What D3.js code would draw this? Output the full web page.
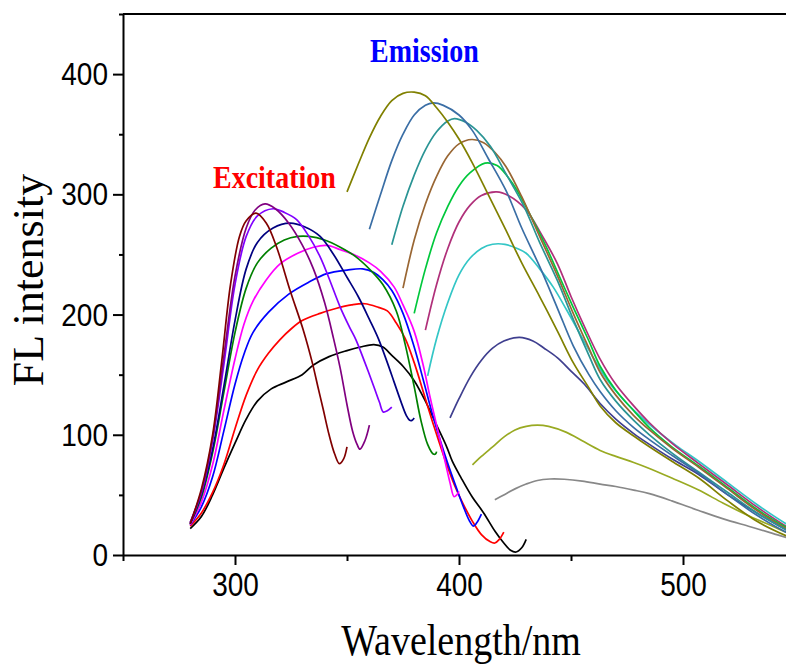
<!DOCTYPE html>
<html>
<head>
<meta charset="utf-8">
<script src="https://cdn.jsdelivr.net/npm/d3@7"></script>
<style>
  body { margin: 0; background: #fff; }
  svg { display: block; }
</style>
</head>
<body>
<div id="chart"></div>
<script>
// excitation spectra, [wavelength nm, intensity]
const exMaroon = [[280,26],[285,55],[290,100],[294,160],[298,225],[302,265],[305,278],[309.4,284.4],[314,276],[318.6,256],[324.6,220],[330.5,187],[334.5,160],[337,140],[339.4,121],[342,100],[344.5,84],[346.6,76],[348.5,80],[350,90]];
const exPurple = [[280,27],[285,53],[290,97],[295,165],[300,232],[305,272],[309,287],[313.4,292],[318,288],[324,276],[330,258],[335,238],[340,210],[344,180],[347,155],[350,125],[352.5,103],[354.5,92],[355.8,88],[358,95],[360,108]];
const exViolet = [[280,27],[285,52],[290,95],[295,158],[300,225],[305,265],[310,282],[317,288],[322,285],[327.5,279],[333,265],[338,248],[342,230],[347,206],[351,190],[354,179],[358,160],[362,140],[364.5,127],[366.2,119],[368,120],[370,123]];
const exNavy = [[280,26],[285,50],[290,88],[295,140],[300,195],[305,238],[310,260],[317,272],[324.6,276],[331,273],[338,265],[344,250],[350,231],[355,215],[360,196],[364,180],[368,160],[371,144],[374,128],[376.5,116],[378,112],[379,112],[380,114]];
const exGreen = [[280,26],[285,48],[290,85],[295,135],[300,185],[305,222],[310,243],[316,255],[322,262],[328,265],[333,265],[340,262],[347,256],[354,248],[361,236],[366,225],[372,203],[376,175],[380,140],[383,112],[386,92],[388.5,84],[389.5,84],[390,86]];
const exMagenta = [[280,25],[285,44],[290,75],[295,120],[300,163],[304,192],[308,211],[314,229],[320,242],[328,251],[335,256],[341,257.5],[347,254],[353,250],[360,243],[365,236],[371,223],[375,208],[380,186],[384,158],[387,132],[390,108],[392,92],[394,76],[396,60],[397.8,48.5],[399,50],[400,53]];
const exBlue = [[280,25],[285,40],[290,65],[295,103],[300,142],[304,167],[308,185],[315,202],[324,217],[333,227],[341,234],[350,237],[357,238],[362,235],[366,229],[370,220],[375,201],[380,173],[384,146],[388,118],[391.5,96],[395,76],[399,55],[402,40],[404.5,29],[406.4,24],[408,27],[410,34]];
const exRed = [[280,24],[285,35],[290,52],[295,75],[300,105],[305,133],[310,154],[315,168],[320,179],[325,188],[330,195],[338,201],[345,205],[352,208],[358,209],[364,206],[368,203],[372,193],[376,180],[380,160],[385,130],[389,106],[394,78],[398,58],[402,42],[406,28],[410,17],[414,11],[416,10],[418,13],[420,19]];
const exBlack = [[280,22],[285,32],[290,50],[295,72],[300,93],[305,113],[310,128],[316,138],[323,144],[330,150],[335,158],[342,165],[350,170],[356,173],[362,175],[366,173],[370,166],[375,157],[380,145],[385,128],[390,108],[394.5,90],[397,78],[401,64],[406,48],[411,35],[416,20],[420,10],[423,4],[425.5,2.5],[428,6],[430,13]];

// emission spectra
const emOlive = [[350,302],[355,325],[360,347],[365,365],[370,378],[375,384],[380,385],[385,382],[390,372],[395,360],[400,346],[406,326],[413,300],[421,270],[428,243],[436,215],[444,186],[451,160],[458,139],[463,124],[470,110],[478,99],[485,90],[495,78],[507,64],[520,45],[533,28],[546,16],[550,13]];
const emSteel = [[360,271],[365,300],[370,328],[375,350],[380,366],[385,374],[388.5,376],[393,374],[400,366],[406,353],[413,330],[421,303],[428,272],[436,240],[444,205],[451,174],[458,150],[463,136],[470,120],[478,106],[485,96],[495,83],[507,68],[520,50],[533,33],[546,19],[550,16]];
const emTeal = [[370,258],[375,290],[380,316],[385,337],[390,352],[395,361],[398,363],[403,360],[408,353],[414,340],[421,317],[429,290],[436,260],[444,228],[451,196],[458,166],[463,146],[470,128],[478,112],[485,100],[495,85],[507,69],[520,52],[533,35],[546,21],[550,17]];
const emBrown = [[375,222],[380,262],[385,292],[390,315],[395,332],[400,342],[405.7,345.6],[411,343],[416,335],[421,323],[428,298],[436,265],[444,232],[451,201],[458,172],[463,152],[470,133],[478,116],[485,104],[495,89],[507,73],[520,55],[533,37],[546,22],[550,18]];
const emGreen = [[380,201],[385,238],[390,268],[395,290],[400,307],[405,318],[411.6,326],[417,324],[422,314],[426,303],[432,282],[439,256],[445,231],[451,206],[458,178],[463,157],[470,137],[478,120],[485,106],[495,90],[507,74],[520,56],[533,38],[546,23],[550,19]];
const emPlum = [[385,187],[390,225],[395,255],[400,277],[405,291],[410,299],[416.8,302],[422,299],[430,287],[437,266],[444,242],[450,215],[456,190],[463,163],[470,142],[478,124],[485,110],[495,93],[507,76],[520,58],[533,40],[546,24],[550,20]];
const emCyan = [[386,149],[390,180],[395,210],[400,233],[405,247],[410,255],[415,258.5],[420.5,258.4],[426,255],[430,251],[436,238],[442,223],[448,204],[454,184],[460,164],[466,146],[473,130],[480,117],[488,104],[497,91],[507,78],[520,60],[533,42],[546,26],[550,22]];
const emSlate = [[396,114],[400,130],[405,148],[410,162],[415,172],[420,178],[427,181],[433,178],[438,172],[444,164],[450,153],[456,142],[463,126],[470,113],[478,101],[485,92],[495,80],[507,67],[520,50],[533,35],[546,21],[550,17]];
const emLime = [[406,75],[410,82],[415,90],[420,98],[425,104],[430,107],[435,108],[440,107],[448,102],[455,95],[463,87],[470,82],[478,77],[485,72],[495,64],[507,54],[518,43],[530,32],[540,24],[546,19],[550,17]];
const emGray = [[416,46],[420,50],[425,55],[430,59],[435,62],[440.6,63.2],[447,63],[455,61.5],[463,59],[470,57],[478,54],[485,51],[495,45],[507,37],[518,30],[530,23.5],[540,18],[546,14.7],[550,13]];

const exCurves = [exBlack, exRed, exBlue, exMagenta, exGreen, exNavy, exViolet, exPurple, exMaroon];
const exColors = ["#000000", "#ff0000", "#0000ff", "#ff00ff", "#008000", "#000080", "#8000ff", "#800080", "#800000"];
const emCurves = [emGray, emLime, emSlate, emCyan, emPlum, emGreen, emBrown, emTeal, emSteel, emOlive];
const emColors = ["#888888", "#99aa22", "#3f3f8f", "#33c6c6", "#b0307a", "#00c83c", "#996633", "#2a9494", "#3a6ea5", "#808000"];

const xMajor = [300, 400, 500];
const xMinor = [250, 350, 450, 550];
const yMajor = [0, 100, 200, 300, 400];
const yMinor = [50, 150, 250, 350, 450];

const width = 786, height = 664;
const svg = d3.select("#chart").append("svg")
  .attr("width", width)
  .attr("height", height);

const x = d3.scaleLinear().domain([250, 550]).range([123, 795]);
const y = d3.scaleLinear().domain([0, 450]).range([555, 14]);

const line = d3.line()
  .x(d => x(d[0]))
  .y(d => y(d[1]))
  .curve(d3.curveCatmullRom.alpha(0.5));

// curves
svg.append("g")
  .selectAll("path")
  .data(emCurves)
  .join("path")
  .attr("d", line)
  .attr("fill", "none")
  .attr("stroke", (d, i) => emColors[i])
  .attr("stroke-width", 1.7);

svg.append("g")
  .selectAll("path")
  .data(exCurves)
  .join("path")
  .attr("d", line)
  .attr("fill", "none")
  .attr("stroke", (d, i) => exColors[i])
  .attr("stroke-width", 1.7);

// axes
const tickFont = "'Liberation Sans', Arial, sans-serif";

const xAx = svg.append("g").attr("transform", `translate(0,${y(0)})`);
xAx.call(d3.axisBottom(x).tickValues(xMajor).tickSize(10).tickSizeOuter(0).tickFormat(d3.format("d")));
xAx.append("g").call(d3.axisBottom(x).tickValues(xMinor).tickSize(6).tickSizeOuter(0).tickFormat(""))
  .select(".domain").remove();
xAx.selectAll("line").attr("stroke", "#000").attr("stroke-width", 2);
xAx.select(".domain").attr("stroke", "#000").attr("stroke-width", 2);
xAx.selectAll(".tick text")
  .attr("y", 34.5).attr("dy", null)
  .attr("transform", "scale(1,1.2)")
  .attr("font-family", tickFont)
  .attr("font-size", 28)
  .attr("fill", "#000");

const yAx = svg.append("g").attr("transform", `translate(${x(250)},0)`);
yAx.call(d3.axisLeft(y).tickValues(yMajor).tickSize(10).tickSizeOuter(0).tickFormat(d3.format("d")));
yAx.append("g").call(d3.axisLeft(y).tickValues(yMinor).tickSize(4).tickSizeOuter(0).tickFormat(""))
  .select(".domain").remove();
yAx.selectAll("line").attr("stroke", "#000").attr("stroke-width", 2);
yAx.select(".domain").attr("stroke", "#000").attr("stroke-width", 2);
yAx.selectAll(".tick text")
  .attr("x", -15).attr("y", 9.5).attr("dy", null)
  .attr("transform", "scale(1,1.1)")
  .attr("font-family", tickFont)
  .attr("font-size", 28)
  .attr("fill", "#000");

// top frame line
svg.append("line")
  .attr("x1", x(250)).attr("x2", x(550))
  .attr("y1", y(450)).attr("y2", y(450))
  .attr("stroke", "#000").attr("stroke-width", 2);

// axis titles
const serif = "'Liberation Serif', 'Times New Roman', serif";
svg.append("text")
  .attr("transform", `translate(461,655) scale(1,1.18)`)
  .attr("text-anchor", "middle")
  .attr("font-family", serif)
  .attr("font-size", 38)
  .text("Wavelength/nm");

svg.append("text")
  .attr("transform", `translate(43,280) rotate(-90)`)
  .attr("text-anchor", "middle")
  .attr("font-family", serif)
  .attr("font-size", 44)
  .text("FL intensity");

// annotations
svg.append("text")
  .attr("transform", `translate(213,188) scale(1,1.1)`)
  .attr("font-family", serif)
  .attr("font-weight", "bold")
  .attr("font-size", 28)
  .attr("fill", "#ff0000")
  .text("Excitation");

svg.append("text")
  .attr("transform", `translate(370,62) scale(1,1.2)`)
  .attr("font-family", serif)
  .attr("font-weight", "bold")
  .attr("font-size", 28)
  .attr("fill", "#0000ff")
  .text("Emission");
</script>
</body>
</html>
